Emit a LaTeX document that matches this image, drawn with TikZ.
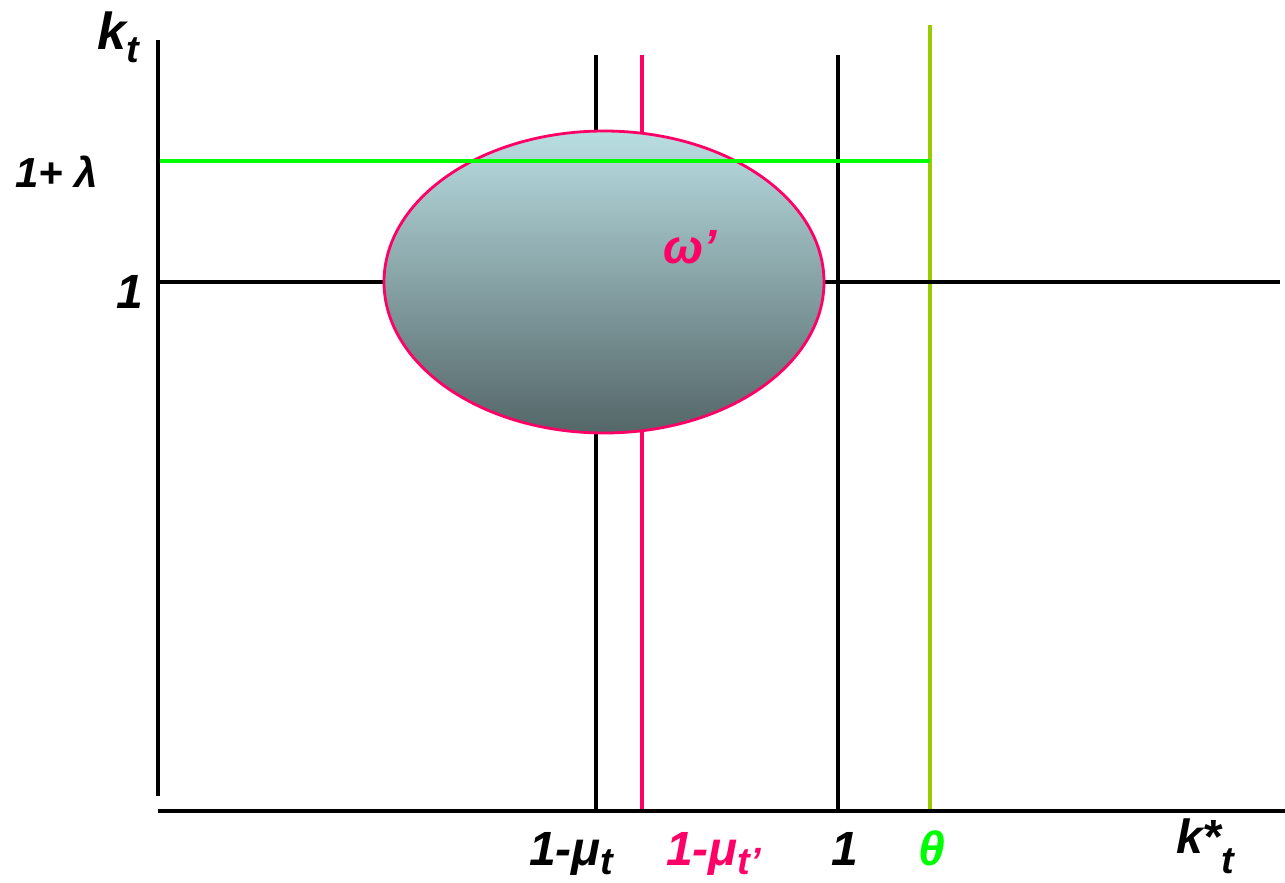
\documentclass[tikz,border=0pt]{standalone}
\usepackage{fontspec}
\setmainfont{Liberation Sans}
\usetikzlibrary{shapes.geometric}
\definecolor{pinkc}{RGB}{255,0,102}
\definecolor{greenc}{RGB}{0,255,0}
\definecolor{olivec}{RGB}{153,204,0}
\definecolor{etop}{RGB}{185,222,226}
\definecolor{ebot}{RGB}{84,102,104}
\newcommand{\subx}[2]{\raisebox{-#1pt}{\fontsize{38}{38}\selectfont #2}}
\tikzset{
  axis/.style={line width=3.4pt, black},
  guide/.style={line width=3.1pt},
  lab/.style={font=\fontsize{48}{48}\selectfont\bfseries\itshape, inner sep=0pt},
}
\begin{document}
\begin{tikzpicture}[x=1pt,y=-1pt]
\useasboundingbox (0,0) rectangle (1285,883);
% vertical guides
\draw[guide, black] (596,55) -- (596,811);
\draw[guide, pinkc] (642,55) -- (642,811);
\draw[guide, black] (838,55) -- (838,811);
\draw[guide, olivec] (930,25) -- (930,811);
% horizontal line at 1
\draw[guide, black] (158,282) -- (1280,282);
% ellipse
\node[ellipse, minimum width=440pt, minimum height=302pt, inner sep=0pt,
      top color=etop, bottom color=ebot, draw=pinkc, line width=2.8pt] (omega) at (604,282) {};
% green line 1+lambda
\draw[guide, greenc] (158,161) -- (930,161);
% axes
\draw[axis] (158,40) -- (158,796);
\draw[axis] (158,811) -- (1285,811);
% labels
\node[lab, anchor=base west, font=\fontsize{52}{52}\selectfont\bfseries\itshape] (kt) at (97,50) {k\subx{13}{t}};
\node[lab, anchor=base west, font=\fontsize{42}{42}\selectfont\bfseries\itshape] (lam) at (15,187) {1+ λ};
\node[lab, anchor=base east] (one) at (143,308) {1};
\node[lab, pinkc, anchor=base west] (w) at (663,263) {ω’};
\node[lab, anchor=base west] (mu) at (529,865) {1-μ\subx{9}{t}};
\node[lab, anchor=base west, pinkc] (mup) at (666,865) {1-μ\subx{9}{t’}};
\node[lab, anchor=base west] (onex) at (831,865) {1};
\node[lab, anchor=base west, greenc] (th) at (918,865) {θ};
\node[lab, anchor=base west] (ks) at (1176,853) {k*\subx{20}{t}};
\end{tikzpicture}
\end{document}
